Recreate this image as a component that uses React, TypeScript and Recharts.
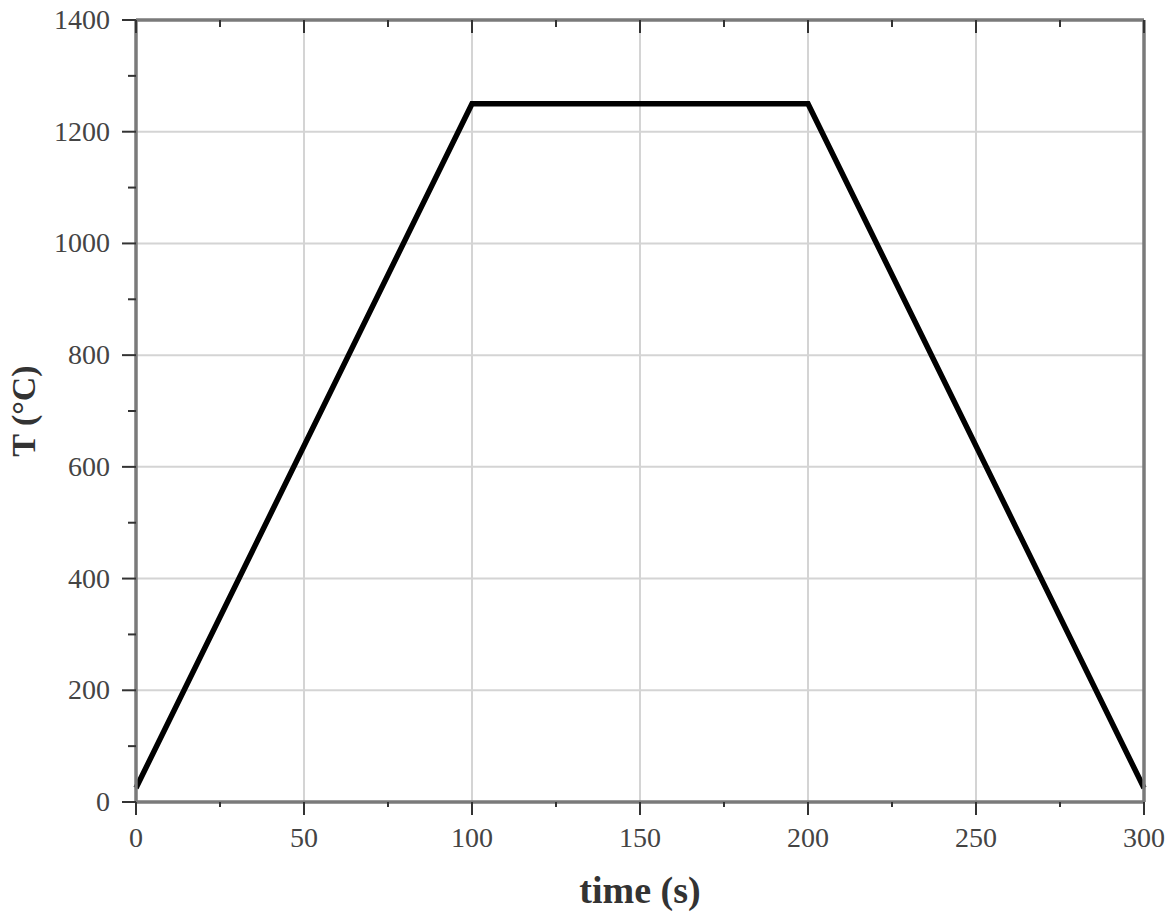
import React from 'react'
import { LineChart, Line, XAxis, YAxis, ReferenceLine } from 'recharts'

// heating profile: ramp up, hold, ramp down
const timeS = [0, 100, 200, 300]
const tempC = [25, 1250, 1250, 25]

const xTicks = [0, 25, 50, 75, 100, 125, 150, 175, 200, 225, 250, 275, 300]
const yTicks = [0, 100, 200, 300, 400, 500, 600, 700, 800, 900, 1000, 1100, 1200, 1300, 1400]
const gridX = [50, 100, 150, 200, 250]
const gridY = [200, 400, 600, 800, 1000, 1200]

const data = timeS.map((t, i) => ({ t, T: tempC[i] }))

const FONT = '"Liberation Serif", "DejaVu Serif", serif'
const AXIS = { stroke: '#7a7a7a', strokeWidth: 3.5 }
const TICK_COLOR = '#333'
const LABEL_COLOR = '#444'

function BottomTick(props: any) {
  const { x, y, payload } = props
  const major = payload.value % 50 === 0
  return (
    <g>
      <line x1={x} x2={x} y1={y} y2={y + (major ? 13 : 5)} stroke={TICK_COLOR} strokeWidth={2} />
      {major && (
        <text x={x} y={y + 45} textAnchor="middle" fontFamily={FONT} fontSize={28} fill={LABEL_COLOR}>
          {payload.value}
        </text>
      )}
    </g>
  )
}

function LeftTick(props: any) {
  const { x, y, payload } = props
  const major = payload.value % 200 === 0
  return (
    <g>
      <line x1={x} x2={x - (major ? 14 : 8)} y1={y} y2={y} stroke={TICK_COLOR} strokeWidth={2} />
      {major && (
        <text x={x - 26} y={y + 9} textAnchor="end" fontFamily={FONT} fontSize={28} fill={LABEL_COLOR}>
          {payload.value}
        </text>
      )}
    </g>
  )
}

function TopTick(props: any) {
  const { x, y, payload } = props
  const major = payload.value % 50 === 0
  return <line x1={x} x2={x} y1={y} y2={y + (major ? 13 : 7)} stroke={TICK_COLOR} strokeWidth={2} />
}

function RightTick(props: any) {
  const { x, y, payload } = props
  const major = payload.value % 200 === 0
  return <line x1={x} x2={x - (major ? 14 : 8)} y1={y} y2={y} stroke={TICK_COLOR} strokeWidth={2} />
}

export default function App() {
  return (
    <div style={{ position: 'absolute', left: 0, top: 0, background: '#fff' }}>
      <LineChart width={1175} height={917} data={data} margin={{ top: 19, right: 30, left: 0, bottom: 0 }}>
        {gridX.map((v) => (
          <ReferenceLine key={'gx' + v} x={v} stroke="#d4d4d4" strokeWidth={2} />
        ))}
        {gridY.map((v) => (
          <ReferenceLine key={'gy' + v} y={v} stroke="#d4d4d4" strokeWidth={2} />
        ))}
        <XAxis
          dataKey="t"
          type="number"
          domain={[0, 300]}
          ticks={xTicks}
          interval={0}
          height={115}
          tickSize={0}
          tickMargin={0}
          tickLine={false}
          axisLine={AXIS}
          tick={<BottomTick />}
          label={{
            value: 'time (s)',
            content: ({ viewBox }: any) => (
              <text
                x={viewBox.x + viewBox.width / 2}
                y={viewBox.y + 101}
                textAnchor="middle"
                fontFamily={FONT}
                fontSize={38}
                fontWeight="bold"
                fill="#333"
              >
                time (s)
              </text>
            ),
          }}
        />
        <XAxis
          xAxisId="top"
          orientation="top"
          dataKey="t"
          type="number"
          domain={[0, 300]}
          ticks={xTicks}
          interval={0}
          height={1}
          tickSize={0}
          tickMargin={0}
          tickLine={false}
          axisLine={AXIS}
          tick={<TopTick />}
        />
        <YAxis
          type="number"
          domain={[0, 1400]}
          ticks={yTicks}
          interval={0}
          width={136}
          tickSize={0}
          tickMargin={0}
          tickLine={false}
          axisLine={AXIS}
          tick={<LeftTick />}
          label={{
            value: 'T (°C)',
            content: ({ viewBox }: any) => {
              const cx = 23
              const cy = viewBox.y + viewBox.height / 2
              return (
                <text
                  x={cx}
                  y={cy}
                  transform={`rotate(-90 ${cx} ${cy})`}
                  textAnchor="middle"
                  dominantBaseline="central"
                  fontFamily={FONT}
                  fontSize={34}
                  fontWeight="bold"
                  fill="#333"
                >
                  T (°C)
                </text>
              )
            },
          }}
        />
        <YAxis
          yAxisId="right"
          orientation="right"
          type="number"
          domain={[0, 1400]}
          ticks={yTicks}
          interval={0}
          width={1}
          tickSize={0}
          tickMargin={0}
          tickLine={false}
          axisLine={AXIS}
          tick={<RightTick />}
        />
        <Line
          type="linear"
          dataKey="T"
          stroke="#000"
          strokeWidth={5.5}
          dot={false}
          activeDot={false}
          isAnimationActive={false}
        />
      </LineChart>
    </div>
  )
}
